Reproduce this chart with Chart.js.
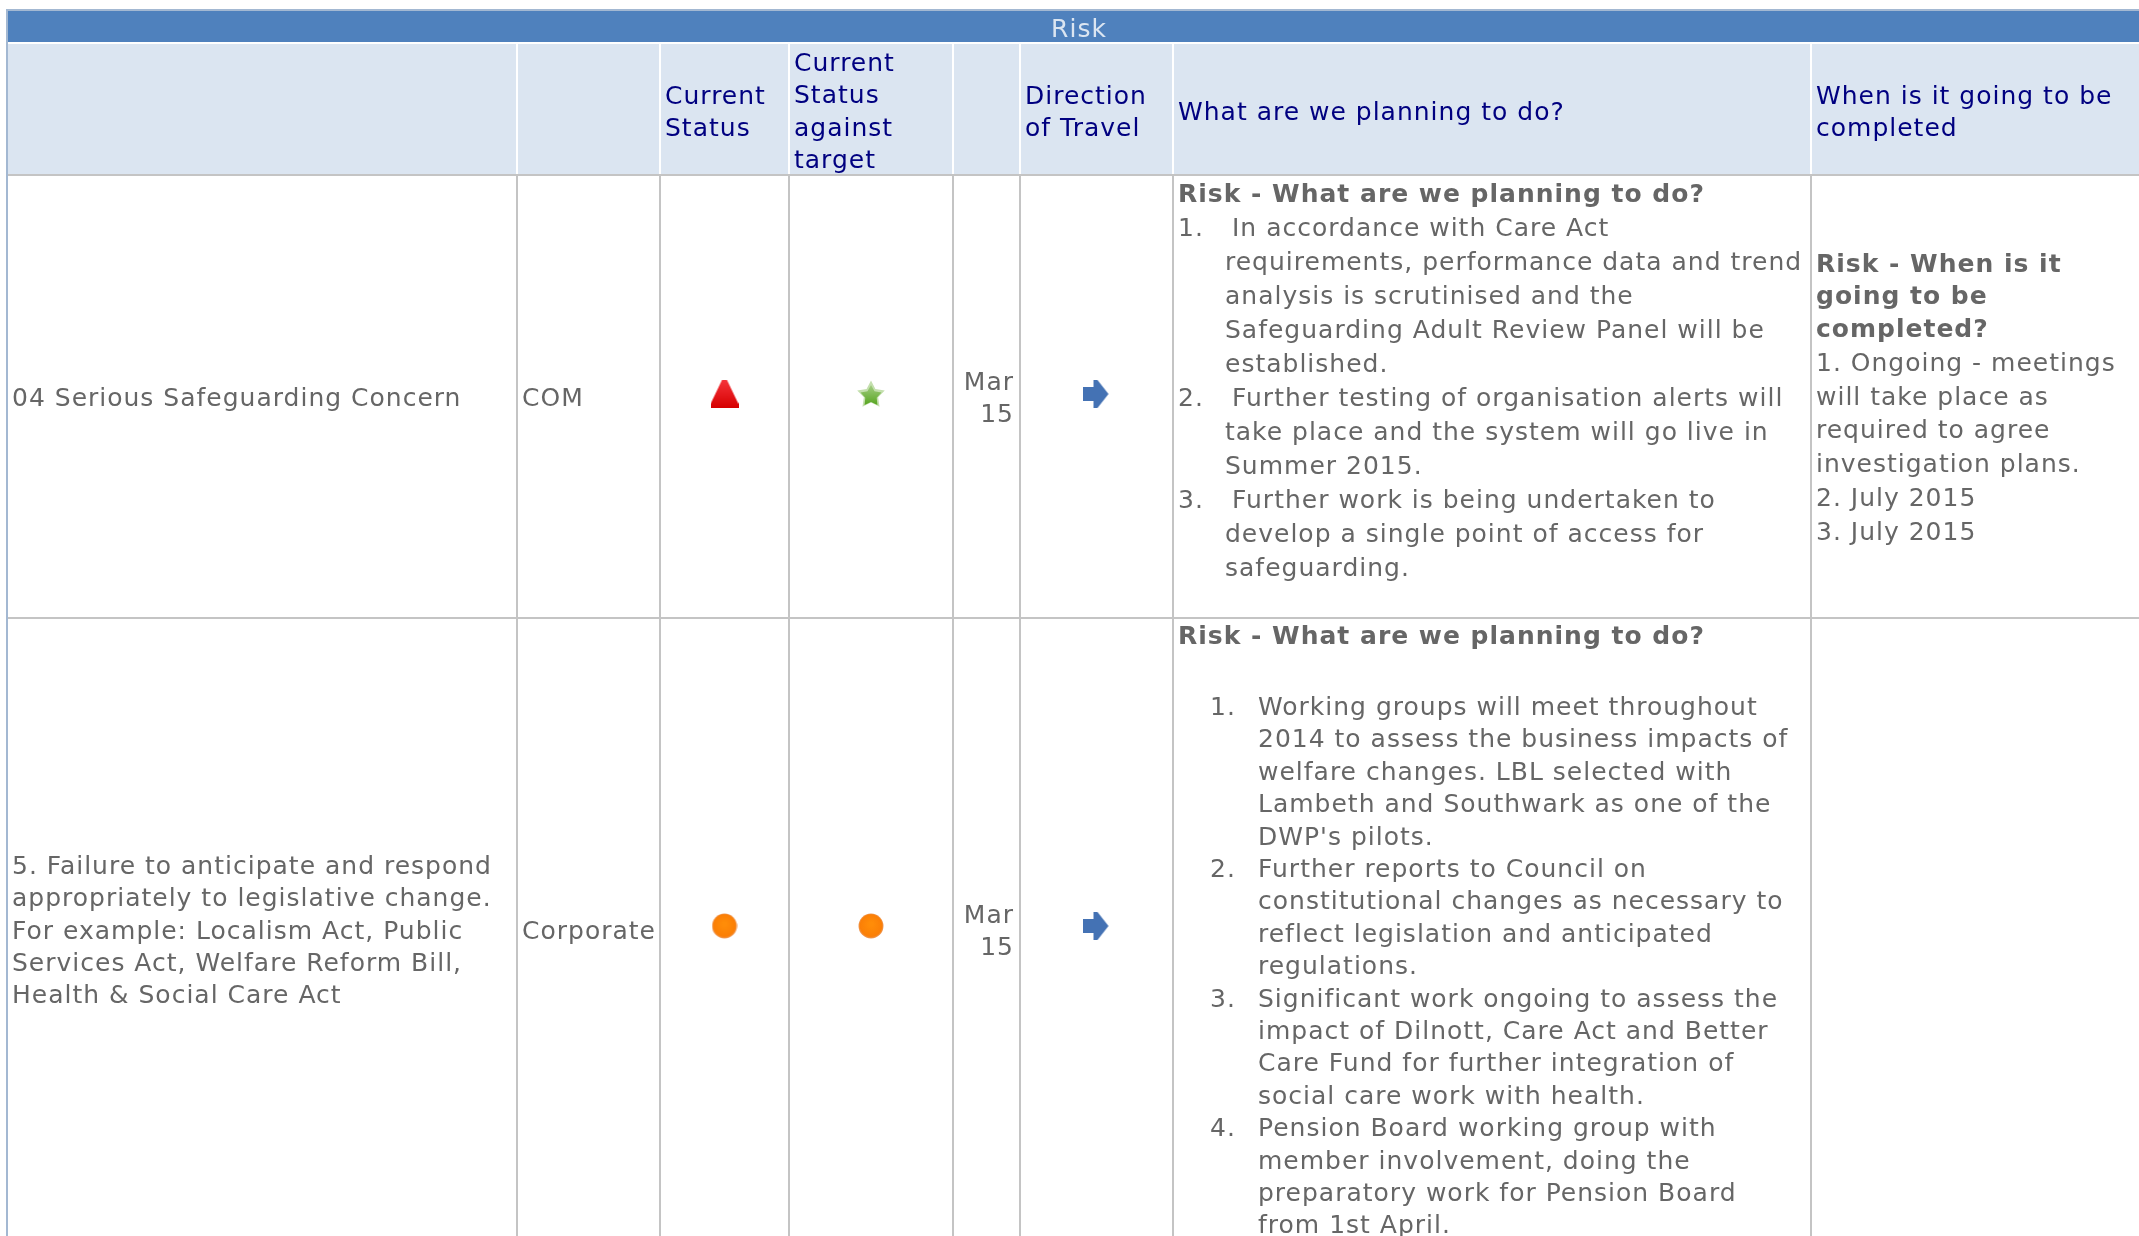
<!DOCTYPE html>
<html>
<head>
<meta charset="utf-8">
<style>
  html, body { margin: 0; padding: 0; background: #fff; overflow: hidden; }
  canvas { display: block; filter: blur(0.4px); }
</style>
<script src="https://cdn.jsdelivr.net/npm/chart.js@4"></script>
</head>
<body>
<canvas id="riskChart" width="2139" height="1236"></canvas>
<script>
// Table content
const bannerTitle = 'Risk';
const headCurrent = ['Current', 'Status'];
const headAgainst = ['Current', 'Status', 'against', 'target'];
const headDirection = ['Direction', 'of Travel'];
const headPlan = ['What are we planning to do?'];
const headWhen = ['When is it going to be', 'completed'];

const riskRow1 = ['04 Serious Safeguarding Concern'];
const riskRow2 = ['5. Failure to anticipate and respond', 'appropriately to legislative change.', 'For example: Localism Act, Public', 'Services Act, Welfare Reform Bill,', 'Health & Social Care Act'];
const owners = ['COM', 'Corporate'];
const reviewed = [['Mar', '15'], ['Mar', '15']];

const currentStatus = ['red', 'amber'];
const targetStatus = ['green', 'amber'];
const travelStatus = ['same', 'same'];

const planHeading = 'Risk - What are we planning to do?';
const planRow1Numbers = ['1.', '2.', '3.'];
const planRow1 = [
  ['In accordance with Care Act', 'requirements, performance data and trend', 'analysis is scrutinised and the', 'Safeguarding Adult Review Panel will be', 'established.'],
  ['Further testing of organisation alerts will', 'take place and the system will go live in', 'Summer 2015.'],
  ['Further work is being undertaken to', 'develop a single point of access for', 'safeguarding.']
];
const planRow2Numbers = ['1.', '2.', '3.', '4.'];
const planRow2 = [
  ['Working groups will meet throughout', '2014 to assess the business impacts of', 'welfare changes. LBL selected with', 'Lambeth and Southwark as one of the', "DWP's pilots."],
  ['Further reports to Council on', 'constitutional changes as necessary to', 'reflect legislation and anticipated', 'regulations.'],
  ['Significant work ongoing to assess the', 'impact of Dilnott, Care Act and Better', 'Care Fund for further integration of', 'social care work with health.'],
  ['Pension Board working group with', 'member involvement, doing the', 'preparatory work for Pension Board', 'from 1st April.']
];
const whenHeading = ['Risk - When is it', 'going to be', 'completed?'];
const whenRow1 = ['1. Ongoing - meetings', 'will take place as', 'required to agree', 'investigation plans.', '2. July 2015', '3. July 2015'];

// Layout of the table, in canvas units
const columnEdges = [8, 517, 660, 789, 953, 1020, 1173, 1811, 2139];
const rowEdges = [176, 618, 1240];
const bannerTop = 11, bannerBottom = 42, headBottom = 174;
const FONT = '"DejaVu Sans", Verdana, sans-serif';
const TEXT_SIZE = 25;
const TRACKING = '1px';
const BODY = '#666666', NAVY = '#000080';

const W = 2139, H = 1236;

// Status icons, drawn once and handed to Chart.js as point styles
function icon(size, draw) {
  const c = document.createElement('canvas');
  c.width = c.height = size;
  draw(c.getContext('2d'), size);
  return c;
}
function starPath(g, cx, cy, r1, r2) {
  g.beginPath();
  for (let i = 0; i < 10; i++) {
    const r = i % 2 ? r2 : r1;
    const a = -Math.PI / 2 + i * Math.PI / 5;
    g.lineTo(cx + r * Math.cos(a), cy + r * Math.sin(a));
  }
  g.closePath();
}
const icons = {
  red: icon(28, (g, s) => {
    const f = g.createLinearGradient(0, 0, 0, s);
    f.addColorStop(0, '#f5333a');
    f.addColorStop(1, '#d60000');
    g.fillStyle = f;
    g.beginPath();
    g.moveTo(s / 2 - 2.5, 0); g.lineTo(s / 2 + 2.5, 0); g.lineTo(s, s - 4); g.lineTo(s, s); g.lineTo(0, s); g.lineTo(0, s - 4);
    g.closePath();
    g.fill();
  }),
  green: icon(28, (g, s) => {
    starPath(g, s / 2, s / 2 + 1, 14.5, 7.5);
    g.fillStyle = '#c4dfae';
    g.fill();
    starPath(g, s / 2, s / 2 + 2, 11, 6);
    const f = g.createLinearGradient(0, 4, 0, s);
    f.addColorStop(0, '#a6cf86');
    f.addColorStop(1, '#4c9f12');
    g.fillStyle = f;
    g.fill();
  }),
  amber: icon(26, (g, s) => {
    const f = g.createRadialGradient(s / 2, s / 2 - 2, 2, s / 2, s / 2, s / 2);
    f.addColorStop(0, '#ff8c08');
    f.addColorStop(0.8, '#fb7f06');
    f.addColorStop(1, '#e9a070');
    g.fillStyle = f;
    g.beginPath();
    g.arc(s / 2, s / 2, s / 2 - 0.5, 0, Math.PI * 2);
    g.fill();
  }),
  same: icon(28, (g, s) => {
    g.fillStyle = '#4472b4';
    g.beginPath();
    g.moveTo(0, 7); g.lineTo(11, 7); g.lineTo(11, 0); g.lineTo(15, 0);
    g.lineTo(26, 14); g.lineTo(15, 28); g.lineTo(11, 28); g.lineTo(11, 21); g.lineTo(0, 21);
    g.closePath();
    g.fill();
  })
};

const columnCentre = i => (columnEdges[i] + columnEdges[i + 1]) / 2;
const rowCentre = i => (rowEdges[i] + rowEdges[i + 1]) / 2 - 3;
const iconPoints = (col, values) => values.map((v, i) => ({ x: columnCentre(col), y: rowCentre(i), status: v }));

function writeLines(chart, lines, x, baseline, pitch, opts = {}) {
  const { ctx, scales } = chart;
  ctx.font = `${opts.bold ? 'bold ' : ''}${TEXT_SIZE}px ${FONT}`;
  ctx.letterSpacing = TRACKING;
  ctx.fillStyle = opts.color || BODY;
  ctx.textAlign = opts.align || 'left';
  ctx.textBaseline = 'alphabetic';
  lines.forEach((line, i) => {
    ctx.fillText(line, scales.x.getPixelForValue(x), scales.y.getPixelForValue(baseline + i * pitch));
  });
}

// Numbered list: numbers in one column, wrapped text in the next
function writeList(chart, numbers, items, numberX, textX, baseline, pitch, firstIndent = 0) {
  let line = 0;
  items.forEach((item, i) => {
    writeLines(chart, [numbers[i]], numberX, baseline + line * pitch, pitch);
    writeLines(chart, [item[0]], textX + firstIndent, baseline + line * pitch, pitch);
    writeLines(chart, item.slice(1), textX, baseline + (line + 1) * pitch, pitch);
    line += item.length;
  });
}

const tablePlugin = {
  id: 'tablePlugin',
  beforeDatasetsDraw(chart) {
    const { ctx, scales } = chart;
    const px = v => scales.x.getPixelForValue(v);
    const py = v => scales.y.getPixelForValue(v);
    ctx.save();

    // banner and header bands
    ctx.fillStyle = '#a3b8d2';
    ctx.fillRect(px(6), py(9), px(W) - px(6), py(bannerTop) - py(9));
    ctx.fillRect(px(6), py(9), px(columnEdges[0]) - px(6), py(H) - py(9));
    ctx.fillStyle = '#4f81bd';
    ctx.fillRect(px(columnEdges[0]), py(bannerTop), px(W) - px(columnEdges[0]), py(bannerBottom) - py(bannerTop));
    ctx.fillStyle = '#dbe5f1';
    ctx.fillRect(px(columnEdges[0]), py(bannerBottom + 2), px(W) - px(columnEdges[0]), py(headBottom) - py(bannerBottom + 2));

    // column separators: white across the header, grey below
    columnEdges.slice(1, -1).forEach(x => {
      ctx.fillStyle = '#ffffff';
      ctx.fillRect(px(x - 1), py(bannerBottom + 2), 2, py(headBottom) - py(bannerBottom + 2));
      ctx.fillStyle = '#c4c4c4';
      ctx.fillRect(px(x - 1), py(rowEdges[0]), 2, py(H) - py(rowEdges[0]));
    });
    ctx.fillStyle = '#c4c4c4';
    ctx.fillRect(px(columnEdges[0]), py(headBottom), px(W) - px(columnEdges[0]), 2);
    ctx.fillRect(px(columnEdges[0]), py(rowEdges[1] - 1), px(W) - px(columnEdges[0]), 2);

    // header text
    writeLines(chart, [bannerTitle], 1079, 37, 0, { color: '#dbe5f1', align: 'center' });
    writeLines(chart, headCurrent, 665, 104, 32.4, { color: NAVY });
    writeLines(chart, headAgainst, 794, 71, 32.4, { color: NAVY });
    writeLines(chart, headDirection, 1025, 104, 32.4, { color: NAVY });
    writeLines(chart, headPlan, 1178, 120, 32.4, { color: NAVY });
    writeLines(chart, headWhen, 1816, 104, 32.4, { color: NAVY });

    // row 1
    writeLines(chart, riskRow1, 12, 406, 32.4);
    writeLines(chart, [owners[0]], 522, 406, 32.4);
    writeLines(chart, reviewed[0], 1014, 390, 32.4, { align: 'right' });
    writeLines(chart, [planHeading], 1178, 202, 0, { bold: true });
    writeList(chart, planRow1Numbers, planRow1, 1178, 1225, 236, 34, 7);
    writeLines(chart, whenHeading, 1816, 272, 32.4, { bold: true });
    writeLines(chart, whenRow1, 1816, 371, 33.7);

    // row 2
    writeLines(chart, riskRow2, 12, 874, 32.3);
    writeLines(chart, [owners[1]], 522, 939, 32.4);
    writeLines(chart, reviewed[1], 1014, 923, 32.4, { align: 'right' });
    writeLines(chart, [planHeading], 1178, 644, 0, { bold: true });
    writeList(chart, planRow2Numbers, planRow2, 1210, 1258, 715, 32.4);

    ctx.restore();
  }
};

new Chart(document.getElementById('riskChart'), {
  type: 'scatter',
  data: {
    datasets: [
      { label: 'Current Status', data: iconPoints(2, currentStatus) },
      { label: 'Current Status against target', data: iconPoints(3, targetStatus) },
      { label: 'Direction of Travel', data: iconPoints(5, travelStatus) }
    ].map(d => ({
      ...d,
      pointStyle: c => icons[c.raw.status],
      pointRadius: 14
    }))
  },
  options: {
    responsive: false,
    animation: false,
    layout: { padding: 0, autoPadding: false },
    scales: {
      x: { display: false, min: 0, max: W },
      y: { display: false, min: 0, max: H, reverse: true }
    },
    plugins: {
      legend: { display: false },
      tooltip: { enabled: false }
    }
  },
  plugins: [tablePlugin]
});
</script>
</body>
</html>
